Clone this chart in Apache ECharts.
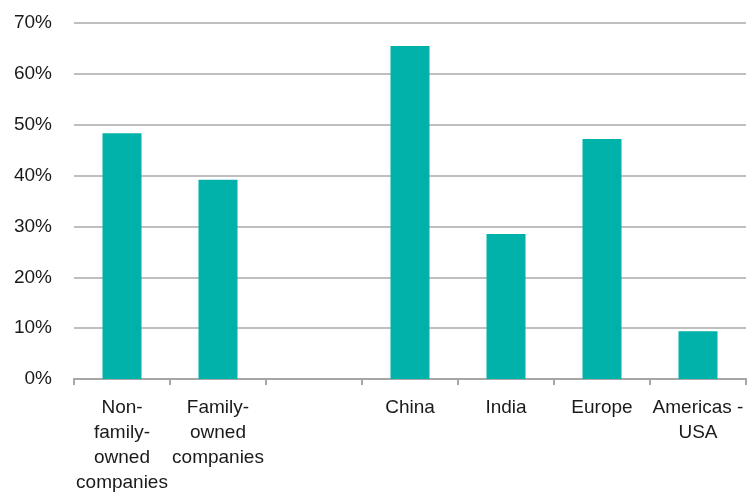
<!DOCTYPE html>
<html>
<head>
<meta charset="utf-8">
<script src="https://cdn.jsdelivr.net/npm/echarts@6/dist/echarts.min.js"></script>
<style>
html,body{margin:0;padding:0;background:#fff;}
#chart{width:747px;height:495px;}
</style>
</head>
<body>
<div id="chart"></div>
<script>
var categories = [
  "Non-\nfamily-\nowned\ncompanies",
  "Family-\nowned\ncompanies",
  "",
  "China",
  "India",
  "Europe",
  "Americas -\nUSA"
];
var values = [48.3, 39.2, null, 65.5, 28.5, 47.2, 9.4];
var yTicks = [0, 10, 20, 30, 40, 50, 60, 70];

var chart = echarts.init(document.getElementById('chart'));
chart.setOption({
  animation: false,
  grid: { left: 74, right: 1, top: 23, bottom: 113, containLabel: false },
  xAxis: {
    type: 'category',
    data: categories,
    axisLine: { lineStyle: { color: '#A6A6A6', width: 2 } },
    axisTick: { show: true, length: 6, lineStyle: { color: '#A6A6A6', width: 2 } },
    axisLabel: {
      interval: 0,
      margin: 16,
      color: '#1a1a1a',
      fontSize: 19,
      lineHeight: 25,
      fontFamily: 'Liberation Sans, Arial, sans-serif'
    }
  },
  yAxis: {
    type: 'value',
    min: yTicks[0],
    max: yTicks[yTicks.length - 1],
    interval: 10,
    axisLine: { show: false },
    axisTick: { show: false },
    splitLine: { lineStyle: { color: '#BFBFBF', width: 2 } },
    axisLabel: {
      margin: 22,
      color: '#1a1a1a',
      fontSize: 19,
      fontFamily: 'Liberation Sans, Arial, sans-serif',
      formatter: '{value}%'
    }
  },
  series: [{
    type: 'bar',
    data: values,
    barWidth: 39,
    itemStyle: { color: '#00B2A9' }
  }]
});
</script>
</body>
</html>
